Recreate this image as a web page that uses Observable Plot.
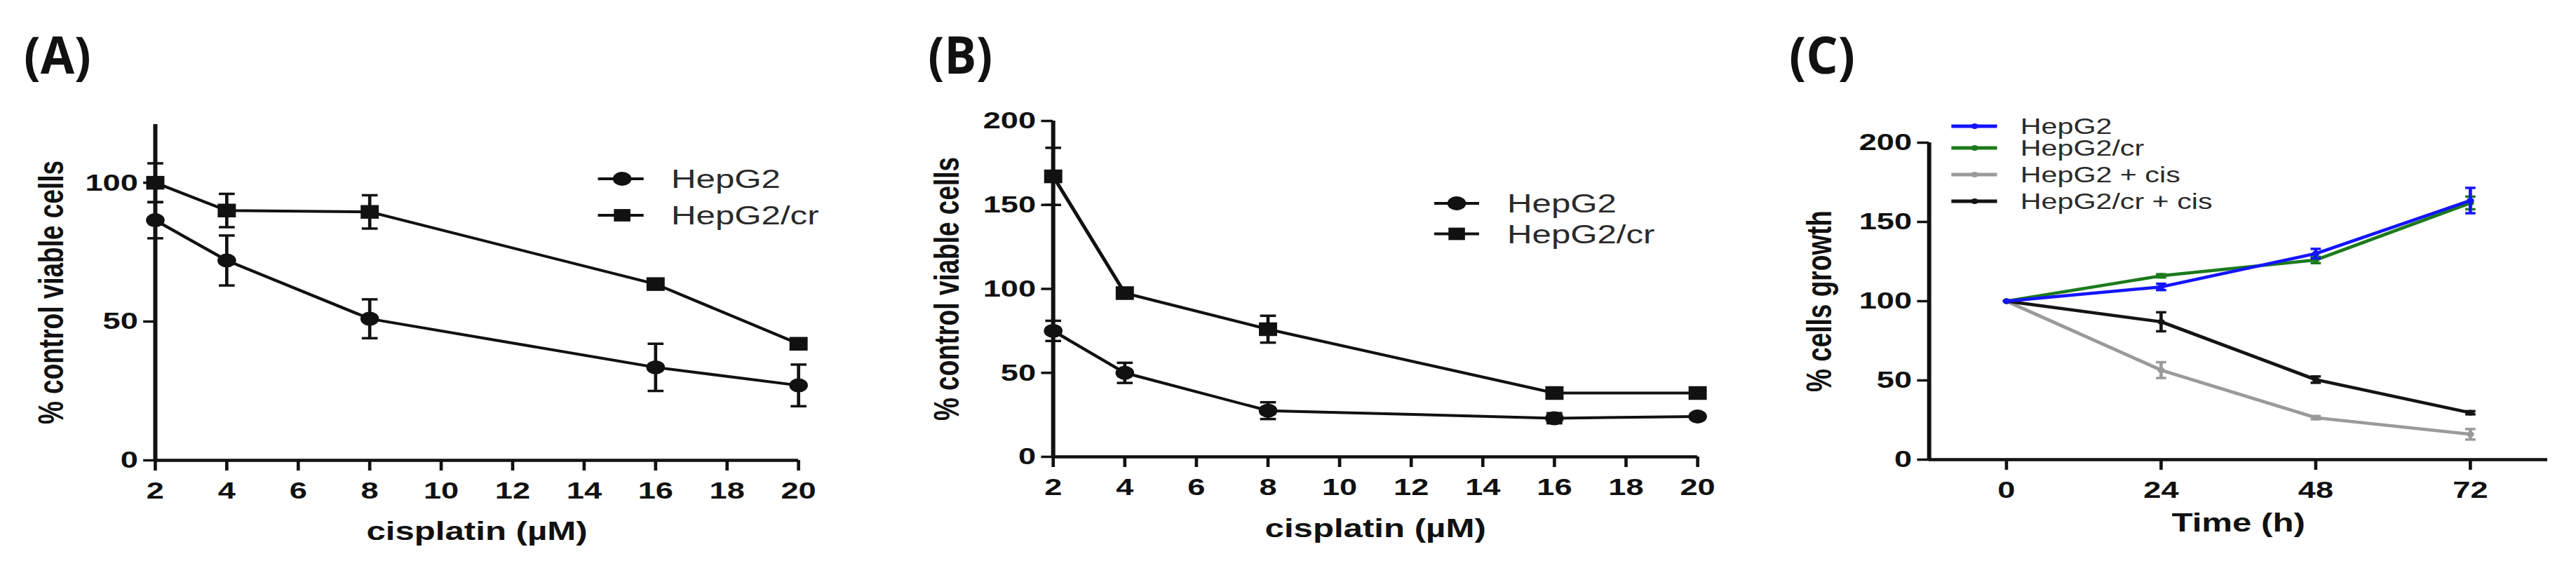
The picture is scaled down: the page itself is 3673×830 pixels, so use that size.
<!DOCTYPE html>
<html>
<head>
<meta charset="utf-8">
<script src="https://cdn.jsdelivr.net/npm/d3@7"></script>
<script src="https://cdn.jsdelivr.net/npm/@observablehq/plot@0.6"></script>
<style>
html, body { margin: 0; padding: 0; background: #fff; overflow: hidden; }
#fig { position: relative; width: 2762px; height: 830px; transform: scaleX(1.33); transform-origin: 0 0; }
.panel { position: absolute; top: 0; }
.panel svg { max-width: none; overflow: visible; }
#overlay { position: absolute; left: 0; top: 0; pointer-events: none; }
</style>
</head>
<body>
<div id="fig"></div>
<script>
// ---------------- data ----------------
const doseA = [2, 4, 8, 16, 20];
const A_HepG2 = [86.5, 72, 51, 33.5, 27];
const A_HepG2_err = [6.5, 9, 7, 8.5, 7.5];
const A_HepG2cr = [100, 90, 89.5, 63.5, 42];
const A_HepG2cr_err = [7, 6, 6, 1, 1];

const doseB = [2, 4, 8, 16, 20];
const B_HepG2 = [75, 50, 27.5, 23, 24];
const B_HepG2_err = [6, 6, 5, 3, 1.5];
const B_HepG2cr = [167, 97.5, 76, 38, 38];
const B_HepG2cr_err = [17, 2, 8, 2, 1.5];

const timeC = [0, 24, 48, 72];
const C_HepG2 = [100, 109, 130, 163.5];
const C_HepG2_err = [0, 2, 3, 8];
const C_HepG2cr = [100, 116, 126, 162];
const C_HepG2cr_err = [0, 1, 2, 4];
const C_HepG2cis = [100, 56.5, 26.5, 16];
const C_HepG2cis_err = [0, 5, 1, 3.3];
const C_HepG2crcis = [100, 87, 50.5, 29.6];
const C_HepG2crcis_err = [0, 6, 2, 1];

const ticksDose = [2, 4, 6, 8, 10, 12, 14, 16, 18, 20];
const ticksTime = [0, 24, 48, 72];
const ticksA = [0, 50, 100];
const ticksBC = [0, 50, 100, 150, 200];

const legendAB = ["HepG2", "HepG2/cr"];
const legendC = ["HepG2", "HepG2/cr", "HepG2 + cis", "HepG2/cr + cis"];
const colorsC = ["#1414ff", "#1c7a1c", "#9a9a9a", "#141414"];
// --------------------------------------

const FONT = "'Liberation Sans', Arial, Helvetica, sans-serif";
const capSymbol = {
  draw(ctx, size) { const w = Math.sqrt(size / Math.PI); ctx.moveTo(-w, 0); ctx.lineTo(w, 0); }
};

function rows(xs, ys, es) { return xs.map((x, i) => ({x, y: ys[i], lo: ys[i] - es[i], hi: ys[i] + es[i]})); }

function seriesMarks(data, {color, symbol, r, lw, capR, capW, ebW}) {
  const eb = data.filter(d => d.hi > d.lo);
  return [
    Plot.ruleX(eb, {x: "x", y1: "lo", y2: "hi", stroke: color, strokeWidth: ebW}),
    Plot.dot(eb, {x: "x", y: "hi", symbol: capSymbol, r: capR, fill: "none", stroke: color, strokeWidth: capW}),
    Plot.dot(eb, {x: "x", y: "lo", symbol: capSymbol, r: capR, fill: "none", stroke: color, strokeWidth: capW}),
    Plot.line(data, {x: "x", y: "y", stroke: color, strokeWidth: lw}),
    Plot.dot(data, {x: "x", y: "y", symbol, r, fill: color, stroke: "none"})
  ];
}

function panel(cfg) {
  const {left, width, mL, mR, mT, mB, xDomain, yDomain, xTicks, yTicks, xLabel, yLabel, xdy, ydx, titleSize, marks} = cfg;
  const chart = Plot.plot({
    width, height: 830,
    marginLeft: mL, marginRight: mR, marginTop: mT, marginBottom: mB,
    style: {background: "transparent", fontFamily: FONT, fontWeight: "bold", fontSize: "34px", color: "#111", overflow: "visible"},
    x: {domain: xDomain},
    y: {domain: yDomain},
    marks: [
      Plot.axisX({ticks: xTicks, tickSize: 15, tickPadding: 15, strokeWidth: 3.5, label: null, fontSize: 34, tickFormat: d => String(d)}),
      Plot.axisY({ticks: yTicks, tickSize: 12.5, tickPadding: 6, strokeWidth: 3.5, label: null, fontSize: 34, tickFormat: d => String(d)}),
      Plot.ruleY([yDomain[0]], {stroke: "#111", strokeWidth: 4.5}),
      Plot.ruleX([xDomain[0]], {stroke: "#111", strokeWidth: 4.5}),
      Plot.text([xLabel], {frameAnchor: "bottom", dy: xdy, fontSize: titleSize, fontWeight: "bold", fill: "#111", textAnchor: "middle", lineAnchor: "middle"}),
      Plot.text([yLabel], {frameAnchor: "left", dx: ydx, rotate: -90, fontSize: titleSize, fontWeight: "bold", fill: "#111", textAnchor: "middle", lineAnchor: "middle"}),
      ...marks
    ]
  });
  const div = document.createElement("div");
  div.className = "panel";
  div.style.left = left + "px";
  div.appendChild(chart);
  document.getElementById("fig").appendChild(div);
}

const abStyle = {color: "#111", lw: 4, capR: 8.5, capW: 3.5, ebW: 3.5};

// Panel A
panel({
  left: 0, width: 900, mL: 166, mR: 44.4, mT: 177, mB: 174,
  xDomain: [2, 20], yDomain: [0, 121], xTicks: ticksDose, yTicks: ticksA,
  xLabel: "cisplatin (\u00B5M)", yLabel: "% control viable cells", xdy: 102, ydx: -111, titleSize: 37,
  marks: [
    ...seriesMarks(rows(doseA, A_HepG2cr, A_HepG2cr_err), {...abStyle, symbol: "square", r: 11}),
    ...seriesMarks(rows(doseA, A_HepG2, A_HepG2_err), {...abStyle, symbol: "circle", r: 10})
  ]
});

// Panel B
panel({
  left: 920, width: 940, mL: 208.6, mR: 40.5, mT: 172, mB: 179,
  xDomain: [2, 20], yDomain: [0, 200], xTicks: ticksDose, yTicks: ticksBC,
  xLabel: "cisplatin (\u00B5M)", yLabel: "% control viable cells", xdy: 103, ydx: -113, titleSize: 37,
  marks: [
    ...seriesMarks(rows(doseB, B_HepG2cr, B_HepG2cr_err), {...abStyle, symbol: "square", r: 11}),
    ...seriesMarks(rows(doseB, B_HepG2, B_HepG2_err), {...abStyle, symbol: "circle", r: 10})
  ]
});

// Panel C
const cSeries = [
  [C_HepG2cis, C_HepG2cis_err, 2],
  [C_HepG2crcis, C_HepG2crcis_err, 3],
  [C_HepG2cr, C_HepG2cr_err, 1],
  [C_HepG2, C_HepG2_err, 0]
];
panel({
  left: 1870, width: 892, mL: 197.7, mR: 31.2, mT: 203, mB: 175,
  xDomain: [-12, 84], yDomain: [0, 200], xTicks: ticksTime, yTicks: ticksBC,
  xLabel: "Time (h)", yLabel: "% cells growth", xdy: 91, ydx: -117, titleSize: 37,
  marks: cSeries.flatMap(([vals, errs, ci]) =>
    seriesMarks(rows(timeC, vals, errs), {color: colorsC[ci], symbol: "circle", r: 4, lw: 4.5, capR: 5.5, capW: 3.5, ebW: 3.5}))
});

// Overlay: panel letters and legends
const ov = d3.select("#fig").append("svg").attr("id", "overlay").attr("width", 2762).attr("height", 830);

[["(A)", 25.6, 72], ["(B)", 995, 69], ["(C)", 1918, 70.6]].forEach(([t, x, w]) => {
  ov.append("text").attr("x", x).attr("y", 105).text(t)
    .attr("font-family", "'Open Sans', sans-serif").attr("font-size", 73).attr("font-weight", 700)
    .attr("fill", "#111").attr("textLength", w).attr("lengthAdjust", "spacingAndGlyphs");
});

function legend(items, {x0, x1, mx, tx, ys, fontSize, colors, symbols, r, lw}) {
  items.forEach((name, i) => {
    const g = ov.append("g");
    g.append("line").attr("x1", x0).attr("x2", x1).attr("y1", ys[i]).attr("y2", ys[i])
      .attr("stroke", colors[i]).attr("stroke-width", lw);
    g.append("path").attr("transform", `translate(${mx},${ys[i]})`)
      .attr("d", d3.symbol(symbols[i] === "square" ? d3.symbolSquare : d3.symbolCircle, Math.PI * r * r)())
      .attr("fill", colors[i]);
    g.append("text").attr("x", tx).attr("y", ys[i]).attr("dy", "0.36em").text(name)
      .attr("font-family", FONT).attr("font-size", fontSize).attr("fill", "#2a2a2a");
  });
}

legend(legendAB, {x0: 641, x1: 690, mx: 667, tx: 719.6, ys: [255, 307], fontSize: 37,
  colors: ["#111", "#111"], symbols: ["circle", "square"], r: 10, lw: 4});
legend(legendAB, {x0: 1537.6, x1: 1585.7, mx: 1561.7, tx: 1615.8, ys: [290, 333.5], fontSize: 37,
  colors: ["#111", "#111"], symbols: ["circle", "square"], r: 10, lw: 4});
legend(legendC, {x0: 2092, x1: 2141, mx: 2117, tx: 2166, ys: [180, 211, 249, 287], fontSize: 31,
  colors: colorsC, symbols: ["circle", "circle", "circle", "circle"], r: 4, lw: 5});
</script>
</body>
</html>
